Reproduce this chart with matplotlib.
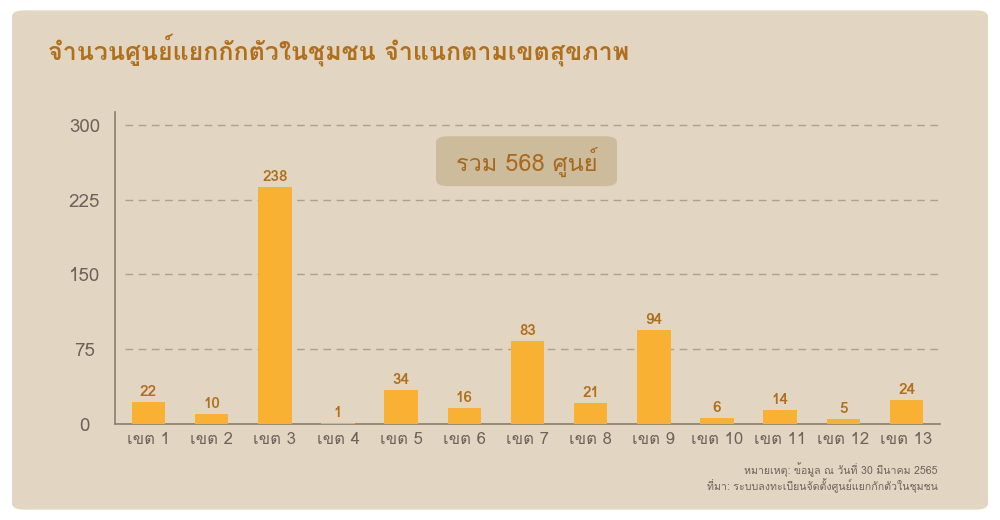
import matplotlib
matplotlib.use('Agg')
import matplotlib.pyplot as plt
from matplotlib import font_manager
from matplotlib.ft2font import FT2Font
from matplotlib.patches import FancyBboxPatch

# Data
categories = ['เขต 1', 'เขต 2', 'เขต 3', 'เขต 4', 'เขต 5', 'เขต 6', 'เขต 7',
              'เขต 8', 'เขต 9', 'เขต 10', 'เขต 11', 'เขต 12', 'เขต 13']
values = [22, 10, 238, 1, 34, 16, 83, 21, 94, 6, 14, 5, 24]
y_ticks = [0, 75, 150, 225, 300]
title = 'จำนวนศูนย์แยกกักตัวในชุมชน จำแนกตามเขตสุขภาพ'
total_label = 'รวม 568 ศูนย์'
note_lines = ['หมายเหตุ: ข้อมูล ณ วันที่ 30 มีนาคม 2565',
              'ที่มา: ระบบลงทะเบียนจัดตั้งศูนย์แยกกักตัวในชุมชน']

# look for a font that can draw Thai
thai_fonts = []
for fe in font_manager.fontManager.ttflist:
    try:
        if 0x0E08 in FT2Font(fe.fname).get_charmap():
            if fe.name not in thai_fonts:
                thai_fonts.append(fe.name)
    except Exception:
        pass
plt.rcParams['font.family'] = thai_fonts + ['DejaVu Sans']

bg = '#E2D6C3'
brown = '#B06F1A'
grey = '#6E625A'

fig = plt.figure(figsize=(10, 5.2), dpi=100)
fig.patch.set_facecolor('white')
panel = FancyBboxPatch((0.012, 0.02), 0.976, 0.96, boxstyle='round,pad=0,rounding_size=0.012',
                       transform=fig.transFigure, facecolor=bg, edgecolor='none', zorder=-5)
fig.patches.append(panel)

ax = fig.add_axes([0.115, 0.1846, 0.825, 0.6])
ax.set_zorder(2)
ax.set_facecolor('none')
x = range(len(categories))
ax.bar(x, values, width=0.53, color='#F8B133', zorder=3)
for i, v in zip(x, values):
    ax.text(i, v + 3, str(v), ha='center', va='bottom', fontsize=11, fontweight='bold', color=brown)

ax.set_xlim(-0.53, len(categories) - 0.47)
ax.set_ylim(0, 313)
ax.set_yticks(y_ticks)
ax.set_xticks(list(x))
ax.set_xticklabels(categories)
ax.tick_params(axis='both', length=0, colors=grey)
ax.tick_params(axis='x', pad=6, labelsize=12)
ax.tick_params(axis='y', pad=22, labelsize=13.5)
for t in ax.get_yticklabels():
    t.set_horizontalalignment('center')
for g in y_ticks[1:]:
    ax.axhline(g, xmin=0.012, color='#ADA08E', linestyle=(0, (5.5, 4)), linewidth=1, zorder=1)
for s in ['top', 'right']:
    ax.spines[s].set_visible(False)
ax.spines['left'].set_color('#8C7D70')
ax.spines['bottom'].set_color('#8C7D70')
ax.spines['left'].set_linewidth(1.2)
ax.spines['bottom'].set_linewidth(1.2)

fig.text(0.048, 0.905, title, fontsize=18, fontweight='bold', color=brown, va='center')
box = FancyBboxPatch((0.436, 0.642), 0.181, 0.096, boxstyle='round,pad=0,rounding_size=0.012',
                     transform=fig.transFigure, facecolor='#CDBC9C', edgecolor='none', zorder=3)
fig.patches.append(box)
fig.text(0.5265, 0.688, total_label, fontsize=17, color='#A8691C', ha='center', va='center', zorder=4)
fig.text(0.938, 0.097, note_lines[0], fontsize=7.6, color=grey, ha='right', va='center')
fig.text(0.938, 0.066, note_lines[1], fontsize=7.6, color=grey, ha='right', va='center')

fig.savefig('out.png', dpi=100, facecolor='white')
